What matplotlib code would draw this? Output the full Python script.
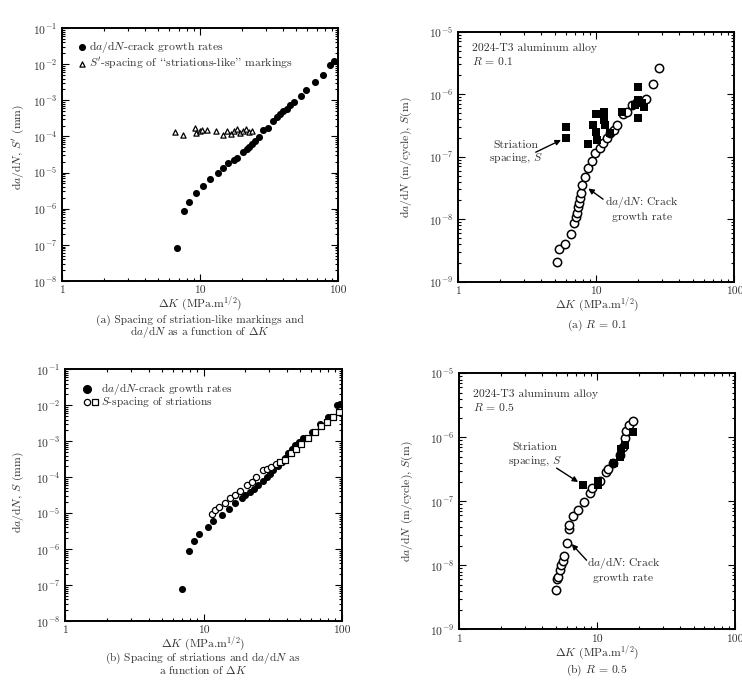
import matplotlib
matplotlib.use("Agg")
import matplotlib.pyplot as plt
import numpy as np
from matplotlib.ticker import LogLocator, NullFormatter, FixedLocator, FixedFormatter

plt.rcParams["font.family"] = ["cmr10", "DejaVu Serif"]
plt.rcParams["mathtext.fontset"] = "cm"
plt.rcParams["axes.formatter.use_mathtext"] = True
plt.rcParams["font.size"] = 8.4

W, H = 742, 683
TXT = "#333333"
FS = 8.4

# (a) top-left: da/dN and S' (mm)
ka_rate = [6.85, 7.66, 8.32, 9.3, 10.6, 11.9, 13.5, 14.7, 16.0, 17.7, 18.4, 20.4, 21.8,
           22.8, 23.9, 25.0, 26.9, 28.5, 31.3, 34.0, 36.0, 38.0, 40.2, 42.5, 44.9, 48.0,
           53.7, 58.6, 68.1, 77.4, 87.5, 93.5]
dadn_a = [8.2e-8, 8.4e-7, 1.52e-6, 2.65e-6, 4.2e-6, 6.5e-6, 9.5e-6, 1.36e-5, 1.8e-5,
          2.2e-5, 2.6e-5, 3.6e-5, 4.4e-5, 5.2e-5, 6.2e-5, 7.6e-5, 9.9e-5, 1.5e-4, 1.7e-4,
          2.7e-4, 3.5e-4, 4.2e-4, 5.1e-4, 5.9e-4, 7.5e-4, 8.9e-4, 1.33e-3, 1.9e-3,
          3.3e-3, 5.1e-3, 9.6e-3, 1.19e-2]
ka_tri = [6.55, 7.5, 9.25, 9.35, 10.0, 10.4, 11.2, 13.1, 14.7, 15.7, 16.8, 17.6, 18.4,
          19.5, 20.4, 21.6, 22.5, 24.0]
s_tri = [1.36e-4, 1.08e-4, 1.69e-4, 1.28e-4, 1.45e-4, 1.51e-4, 1.51e-4, 1.39e-4, 1.08e-4,
         1.39e-4, 1.17e-4, 1.39e-4, 1.58e-4, 1.22e-4, 1.42e-4, 1.63e-4, 1.30e-4, 1.42e-4]

# (a) top-right: R = 0.1 (m)
k_r1 = [5.16, 5.37, 5.93, 6.56, 6.89, 7.13, 7.3, 7.4, 7.5, 7.6, 7.75, 7.9, 8.28, 8.66,
        9.35, 9.8, 10.6, 11.2, 11.9, 12.6, 13.4, 14.2, 15.5, 16.8, 18.0, 19.6, 22.9,
        25.9, 28.6]
dadn_r1 = [2.07e-9, 3.3e-9, 4.0e-9, 5.8e-9, 8.6e-9, 1.07e-8, 1.27e-8, 1.55e-8, 1.84e-8,
           2.2e-8, 2.65e-8, 3.5e-8, 4.8e-8, 6.5e-8, 8.6e-8, 1.13e-7, 1.36e-7, 1.64e-7,
           1.97e-7, 2.4e-7, 2.7e-7, 3.2e-7, 4.9e-7, 5.2e-7, 6.7e-7, 7.6e-7, 8.3e-7,
           1.46e-6, 2.6e-6]
k_s1 = [6.0, 6.0, 8.75, 9.5, 9.95, 10.0, 10.2, 11.4, 11.4, 11.5, 12.6, 15.3, 20.0, 20.0,
        19.0, 20.0, 22.2, 21.5]
s_r1 = [3.0e-7, 2.0e-7, 1.6e-7, 3.2e-7, 4.9e-7, 2.5e-7, 1.85e-7, 5.1e-7, 3.9e-7, 3.2e-7,
        2.4e-7, 5.1e-7, 1.32e-6, 8.1e-7, 6.7e-7, 4.1e-7, 6.3e-7, 7.1e-7]

# (b) bottom-left: da/dN and S (mm)
kc_rate = [6.95, 7.89, 8.54, 9.27, 10.8, 11.8, 13.5, 15.4, 17.0, 18.9, 20.0, 21.7, 23.3,
           24.9, 26.8, 28.7, 30.5, 32.0, 34.5, 36.8, 39.0, 41.1, 43.5, 45.9, 49.0, 52.7,
           60.6, 69.6, 80.0, 92.0, 98.0]
dadn_c = [7.9e-8, 8.7e-7, 1.65e-6, 2.6e-6, 4.0e-6, 6.0e-6, 8.7e-6, 1.33e-5, 1.9e-5,
          2.6e-5, 3.1e-5, 3.9e-5, 4.8e-5, 6.1e-5, 7.8e-5, 9.9e-5, 1.25e-4, 1.58e-4,
          2.05e-4, 2.7e-4, 3.5e-4, 4.6e-4, 6.0e-4, 7.9e-4, 9.5e-4, 1.2e-3, 1.84e-3,
          3.1e-3, 4.6e-3, 1.0e-2, 1.1e-2]
kc_s = [11.5, 12.1, 13.0, 14.3, 15.6, 17.0, 18.4, 20.5, 22.3, 24.0, 27.0, 28.7, 31.0, 33.5]
s_c = [9.5e-6, 1.22e-5, 1.45e-5, 1.9e-5, 2.6e-5, 3.2e-5, 4.2e-5, 6.1e-5, 7.5e-5, 9.9e-5,
       1.6e-4, 1.66e-4, 1.9e-4, 2.3e-4]
kc_sq = [35.5, 38.9, 43.0, 47.0, 51.0, 57.0, 64.0, 71.0, 78.0, 86.0, 95.0]
s_sq = [2.6e-4, 3.0e-4, 4.6e-4, 6.2e-4, 8.5e-4, 1.25e-3, 1.75e-3, 2.6e-3, 3.4e-3,
        4.6e-3, 6.6e-3]

# (b) bottom-right: R = 0.5 (m)
k_r5 = [5.02, 5.13, 5.2, 5.36, 5.5, 5.67, 5.77, 6.0, 6.2, 6.28, 6.63, 7.3, 8.0, 8.85,
        9.1, 10.5, 11.6, 12.0, 13.1, 14.7, 15.3, 15.9, 16.3, 17.1, 18.3]
dadn_r5 = [4.1e-9, 6.0e-9, 6.5e-9, 8.5e-9, 1.0e-8, 1.18e-8, 1.4e-8, 2.25e-8, 3.7e-8,
           4.3e-8, 5.8e-8, 7.3e-8, 9.6e-8, 1.33e-7, 1.6e-7, 2.1e-7, 2.9e-7, 3.2e-7,
           4.0e-7, 5.3e-7, 7.1e-7, 9.6e-7, 1.26e-6, 1.55e-6, 1.8e-6]
k_s5 = [7.9, 10.1, 10.1, 13.2, 14.7, 14.9, 15.9, 18.1]
s_r5 = [1.8e-7, 1.8e-7, 2.1e-7, 4.0e-7, 5.0e-7, 6.6e-7, 7.6e-7, 1.2e-6]


def box(l, t, r, b):
    """Axes rectangle from pixel edges of the reference picture."""
    return [l / W, 1 - b / H, (r - l) / W, (b - t) / H]


def style(ax, ylo, yhi):
    ax.set_xscale("log")
    ax.set_yscale("log")
    ax.set_xlim(1, 100)
    ax.set_ylim(ylo, yhi)
    ax.xaxis.set_major_locator(FixedLocator([1, 10, 100]))
    ax.xaxis.set_major_formatter(FixedFormatter(["1", "10", "100"]))
    ax.xaxis.set_minor_locator(LogLocator(base=10, subs=np.arange(2, 10), numticks=50))
    ax.xaxis.set_minor_formatter(NullFormatter())
    ax.yaxis.set_major_locator(LogLocator(base=10, numticks=50))
    ax.yaxis.set_minor_locator(LogLocator(base=10, subs=np.arange(2, 10), numticks=50))
    ax.yaxis.set_minor_formatter(NullFormatter())
    ax.tick_params(which="both", direction="in", top=True, right=True, colors="black",
                   labelcolor=TXT, labelsize=FS, width=0.8)
    ax.tick_params(which="major", length=5, pad=3.5)
    ax.tick_params(which="minor", length=2.5)
    for sp in ax.spines.values():
        sp.set_linewidth(1.4)


def ftext(x, y, s, size=FS, **kw):
    fig.text(x / W, 1 - y / H, s, ha="center", va="center", color=TXT, fontsize=size, **kw)


def arrow(ax, tail, tip):
    ax.annotate("", xy=tip, xytext=tail,
                arrowprops=dict(arrowstyle="-|>", color="black", lw=1.0,
                                mutation_scale=8, shrinkA=0, shrinkB=0))


fig = plt.figure(figsize=(W / 100, H / 100), dpi=100)

# ---- top-left
ax1 = fig.add_axes(box(62, 28, 338, 281))
style(ax1, 1e-8, 1e-1)
ax1.scatter(ka_rate, dadn_a, s=26, c="black", marker="o", lw=0, zorder=3,
            label=r"d$a$/d$N$-crack growth rates")
ax1.scatter(ka_tri, s_tri, s=14, facecolors="white", edgecolors="black", marker="^",
            lw=0.9, zorder=3, label=r"$S'$-spacing of ``striations-like'' markings")
leg = ax1.legend(loc="upper left", frameon=False, handletextpad=0.1, borderaxespad=0.3,
                 labelspacing=0.05, bbox_to_anchor=(0.02, 0.99),
                 handlelength=1.0, fontsize=FS)
for t in leg.get_texts():
    t.set_color(TXT)
ftext(18, 147, r"d$a$/d$N$, $S'$ (mm)", rotation=90)
ftext(200, 304, r"$\Delta K$ (MPa.m$^{1/2}$)")
ftext(200, 320, "(a) Spacing of striation-like markings and", size=8.2)
ftext(200, 332, r"d$a$/d$N$ as a function of $\Delta K$", size=8.2)

# ---- top-right
ax2 = fig.add_axes(box(458.3, 31.7, 734.3, 281.7))
style(ax2, 1e-9, 1e-5)
ax2.scatter(k_r1, dadn_r1, s=36, facecolors="white", edgecolors="black", marker="o",
            lw=1.1, zorder=3)
ax2.scatter(k_s1, s_r1, s=30, c="black", marker="s", lw=0, zorder=4)
ax2.text(0.05, 0.955, "2024-T3 aluminum alloy\n$R$ = 0.1", transform=ax2.transAxes,
         ha="left", va="top", color=TXT, linespacing=1.25)
ax2.text(2.62, 1.15e-7, "Striation\nspacing, $S$", ha="center", va="center", color=TXT,
         linespacing=1.25)
arrow(ax2, (3.64, 1.18e-7), (5.55, 1.85e-7))
ax2.text(21.4, 1.5e-8, "d$a$/d$N$: Crack\ngrowth rate", ha="center", va="center",
         color=TXT, linespacing=1.25)
arrow(ax2, (11.2, 2.09e-8), (8.75, 3.1e-8))
ftext(406.7, 157, r"d$a$/d$N$ (m/cycle), $S$(m)", rotation=90)
ftext(597, 305, r"$\Delta K$ (MPa.m$^{1/2}$)")
ftext(597, 325, "(a) $R$ = 0.1")

# ---- bottom-left
ax3 = fig.add_axes(box(65.3, 369.3, 341.7, 621))
style(ax3, 1e-8, 1e-1)
ax3.scatter(kc_rate, dadn_c, s=26, c="black", marker="o", lw=0, zorder=3)
ax3.scatter(kc_s, s_c, s=20, facecolors="white", edgecolors="black", marker="o",
            lw=0.9, zorder=4)
ax3.scatter(kc_sq, s_sq, s=16, facecolors="white", edgecolors="black", marker="s",
            lw=0.9, zorder=4)
# legend rows drawn by hand: the second row carries two marker symbols
ax3.plot([0.08], [0.92], "o", ms=5.5, color="black", transform=ax3.transAxes)
ax3.plot([0.08], [0.872], "o", ms=4.5, mfc="white", mec="black", mew=0.9,
         transform=ax3.transAxes)
ax3.plot([0.106], [0.872], "s", ms=4.0, mfc="white", mec="black", mew=0.9,
         transform=ax3.transAxes)
ax3.text(0.128, 0.92, r"d$a$/d$N$-crack growth rates", transform=ax3.transAxes,
         ha="left", va="center", color=TXT, fontsize=8.2)
ax3.text(0.128, 0.872, r"$S$-spacing of striations", transform=ax3.transAxes,
         ha="left", va="center", color=TXT, fontsize=8.2)
ftext(18, 492, r"d$a$/d$N$, $S$ (mm)", rotation=90)
ftext(203, 644, r"$\Delta K$ (MPa.m$^{1/2}$)")
ftext(203, 658.5, r"(b) Spacing of striations and d$a$/d$N$ as", size=8.2)
ftext(203, 670.5, r"a function of $\Delta K$", size=8.2)

# ---- bottom-right
ax4 = fig.add_axes(box(459.3, 373.3, 735, 629.3))
style(ax4, 1e-9, 1e-5)
ax4.scatter(k_r5, dadn_r5, s=36, facecolors="white", edgecolors="black", marker="o",
            lw=1.1, zorder=3)
ax4.scatter(k_s5, s_r5, s=40, c="black", marker="s", lw=0, zorder=4)
ax4.text(0.05, 0.94, "2024-T3 aluminum alloy\n$R$ = 0.5", transform=ax4.transAxes,
         ha="left", va="top", color=TXT, linespacing=1.25)
ax4.text(3.52, 5.2e-7, "Striation\nspacing, $S$", ha="center", va="center", color=TXT,
         linespacing=1.25)
arrow(ax4, (5.08, 3.3e-7), (7.28, 2.0e-7))
ax4.text(15.5, 8.8e-9, "d$a$/d$N$: Crack\ngrowth rate", ha="center", va="center",
         color=TXT, linespacing=1.25)
arrow(ax4, (8.38, 1.2e-8), (6.53, 2.15e-8))
ftext(407, 501, r"d$a$/d$N$ (m/cycle), $S$(m)", rotation=90)
ftext(597, 653, r"$\Delta K$ (MPa.m$^{1/2}$)")
ftext(597, 670, "(b) $R$ = 0.5")

fig.savefig("out.png", dpi=100)
